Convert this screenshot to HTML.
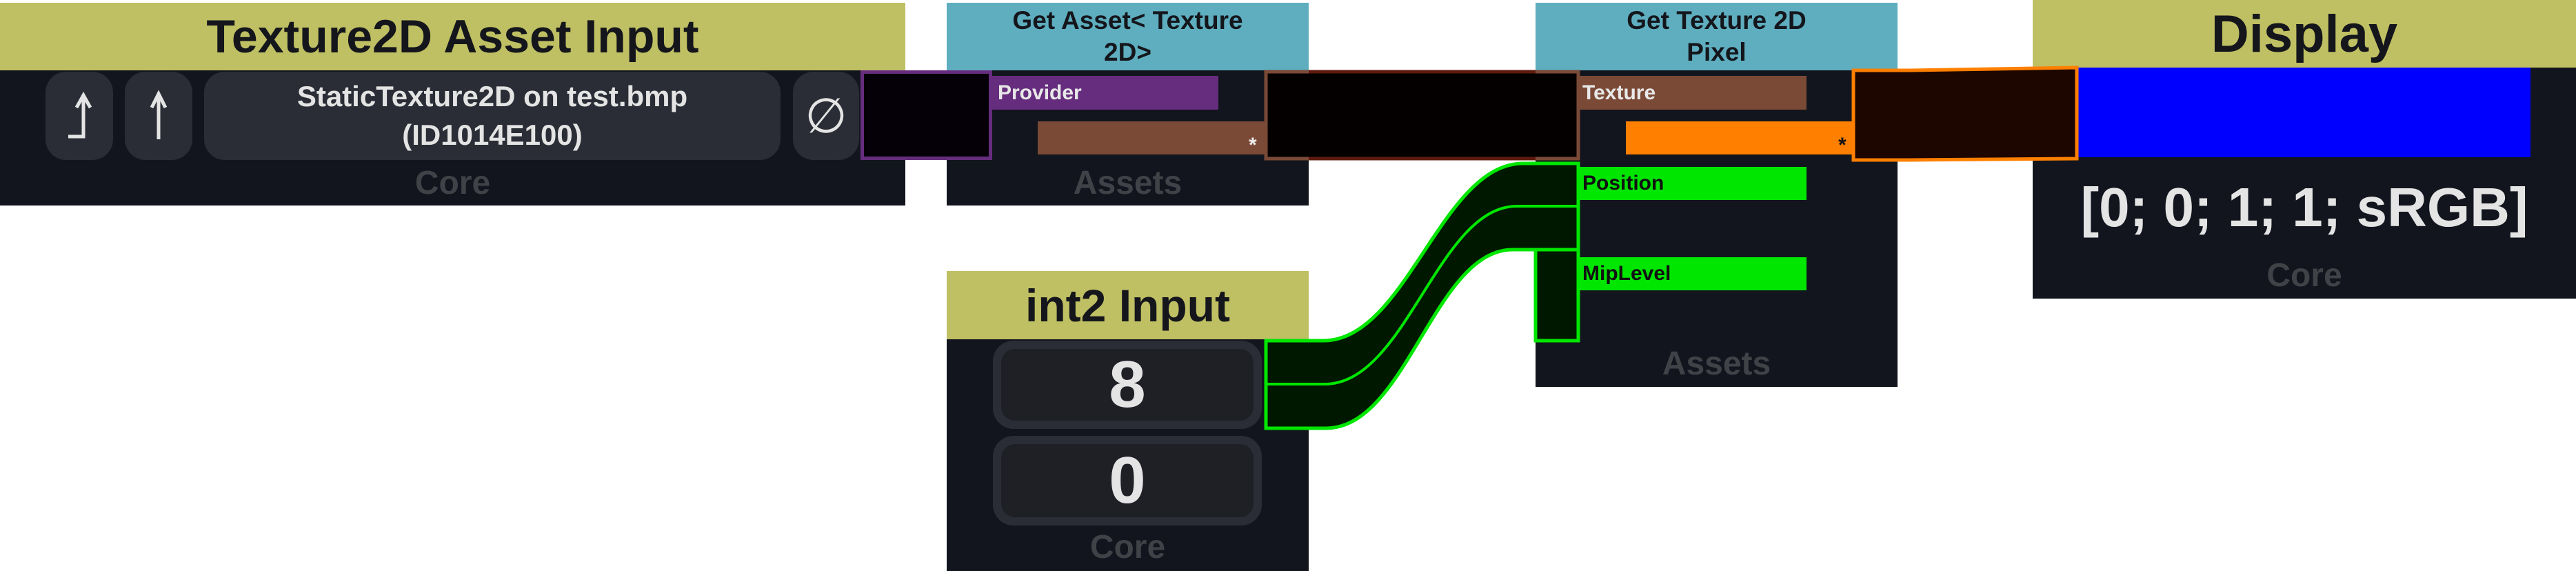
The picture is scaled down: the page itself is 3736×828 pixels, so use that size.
<!DOCTYPE html>
<html><head><meta charset="utf-8"><style>
html,body{margin:0;padding:0;background:#fff;}
body{width:3736px;height:828px;position:relative;overflow:hidden;font-family:"Liberation Sans",sans-serif;font-weight:bold;}
.a{position:absolute;box-sizing:border-box;}
.hy{background:#bfbf63;color:#14161c;display:flex;align-items:center;justify-content:center;text-align:center;}
.hb{background:#5eaebf;color:#14161c;display:flex;align-items:center;justify-content:center;text-align:center;font-size:37px;line-height:46px;}
.bd{background:#12151d;}
.core{color:#3f4247;font-size:48px;text-align:center;}
.btn{background:#2a2d35;border-radius:30px;color:#e4e4e4;display:flex;align-items:center;justify-content:center;text-align:center;}
.lbl{font-size:30px;padding-left:8px;display:flex;align-items:center;}
</style></head><body>

<!-- Texture2D Asset Input -->
<div class="a hy" style="left:0;top:4px;width:1313px;height:98px;font-size:68px;">Texture2D Asset Input</div>
<div class="a bd" style="left:0;top:102px;width:1313px;height:196px;"></div>
<div class="a btn" style="left:66px;top:104px;width:98px;height:128px;">
  <svg width="60" height="100" viewBox="0 0 60 100"><path d="M14,80 L36,80 L36,24 M26,38 L36,20 L46,38" fill="none" stroke="#e4e4e4" stroke-width="5"/></svg>
</div>
<div class="a btn" style="left:181px;top:104px;width:98px;height:128px;">
  <svg width="60" height="100" viewBox="0 0 60 100"><path d="M30,84 L30,20 M20,38 L30,18 L40,38" fill="none" stroke="#e4e4e4" stroke-width="5"/></svg>
</div>
<div class="a btn" style="left:296px;top:104px;width:836px;height:128px;font-size:42px;line-height:56px;">StaticTexture2D on test.bmp<br>(ID1014E100)</div>
<div class="a btn" style="left:1150px;top:104px;width:96px;height:128px;font-size:70px;font-weight:normal;">∅</div>
<div class="a core" style="left:0;top:238px;width:1313px;">Core</div>

<!-- Get Asset -->
<div class="a hb" style="left:1373px;top:4px;width:525px;height:98px;">Get Asset&lt; Texture<br>2D&gt;</div>
<div class="a bd" style="left:1373px;top:102px;width:525px;height:196px;"></div>
<div class="a lbl" style="left:1439px;top:110px;width:328px;height:49px;background:#662d7e;color:#e8e8e8;">Provider</div>
<div class="a" style="left:1505px;top:176px;width:331px;height:48px;background:#7b4a37;"></div>
<div class="a" style="left:1811px;top:194px;color:#eee;font-size:30px;">*</div>
<div class="a core" style="left:1373px;top:238px;width:525px;">Assets</div>

<!-- purple connection -->
<div class="a" style="left:1248px;top:102px;width:191px;height:130px;background:#050008;border:5px solid #662d7e;"></div>

<!-- int2 Input -->
<div class="a hy" style="left:1373px;top:393px;width:525px;height:99px;font-size:66px;">int2 Input</div>
<div class="a bd" style="left:1373px;top:492px;width:525px;height:336px;"></div>
<div class="a" style="left:1440px;top:494px;width:390px;height:128px;background:#2a2d35;border-radius:30px;"></div>
<div class="a btn" style="left:1452px;top:506px;width:366px;height:104px;background:#1e2026;border-radius:20px;font-size:96px;">8</div>
<div class="a" style="left:1440px;top:632px;width:390px;height:130px;background:#2a2d35;border-radius:30px;"></div>
<div class="a btn" style="left:1452px;top:644px;width:366px;height:106px;background:#1e2026;border-radius:20px;font-size:96px;">0</div>
<div class="a core" style="left:1373px;top:766px;width:525px;">Core</div>

<!-- Get Texture 2D Pixel -->
<div class="a hb" style="left:2227px;top:4px;width:525px;height:98px;">Get Texture 2D<br>Pixel</div>
<div class="a bd" style="left:2227px;top:102px;width:525px;height:459px;"></div>
<div class="a lbl" style="left:2287px;top:110px;width:333px;height:49px;background:#7b4a37;color:#e8e8e8;">Texture</div>
<div class="a" style="left:2358px;top:176px;width:330px;height:48px;background:#ff7f00;"></div>
<div class="a" style="left:2666px;top:194px;color:#111;font-size:30px;">*</div>
<div class="a lbl" style="left:2287px;top:242px;width:333px;height:48px;background:#00e600;color:#111;">Position</div>
<div class="a lbl" style="left:2287px;top:373px;width:333px;height:48px;background:#00e600;color:#111;">MipLevel</div>
<div class="a core" style="left:2227px;top:500px;width:525px;">Assets</div>

<!-- Display -->
<div class="a hy" style="left:2948px;top:0;width:788px;height:98px;font-size:76px;">Display</div>
<div class="a bd" style="left:2948px;top:98px;width:788px;height:335px;"></div>
<div class="a" style="left:3012px;top:98px;width:658px;height:130px;background:#0000ff;"></div>
<div class="a" style="left:2948px;top:255px;width:788px;text-align:center;color:#e4e4e4;font-size:80px;">[0; 0; 1; 1; sRGB]</div>
<div class="a core" style="left:2948px;top:372px;width:788px;">Core</div>

<!-- connections -->
<svg class="a" style="left:0;top:0;" width="3736" height="828">
  <rect x="1836" y="104" width="453" height="126" fill="#040000" stroke="#7b4a37" stroke-width="5"/>
  <line x1="1898" y1="104" x2="2227" y2="104" stroke="#5e1a0e" stroke-width="5"/>
  <line x1="1898" y1="230" x2="2227" y2="230" stroke="#5e1a0e" stroke-width="5"/>
  <path d="M2688,102 L2770,102 L3012,98 L3012,230 L2770,232 L2688,232 Z" fill="#1e0600" stroke="#ff7f00" stroke-width="5"/>
  <path d="M1836,494 L1919,494 C2040,494 2090,237 2209,237 L2289,237 L2289,494 L2227,494 L2227,362 L2194,362 C2080,362 2040,621 1923,621 L1836,621 Z" fill="#001800" stroke="#00e600" stroke-width="5"/>
  <path d="M1836,557 L1921,557 C2040,557 2085,299 2200,299 L2289,299" fill="none" stroke="#00e600" stroke-width="4"/>
  <line x1="2227" y1="362" x2="2289" y2="362" stroke="#00e600" stroke-width="5"/>
</svg>
</body></html>
